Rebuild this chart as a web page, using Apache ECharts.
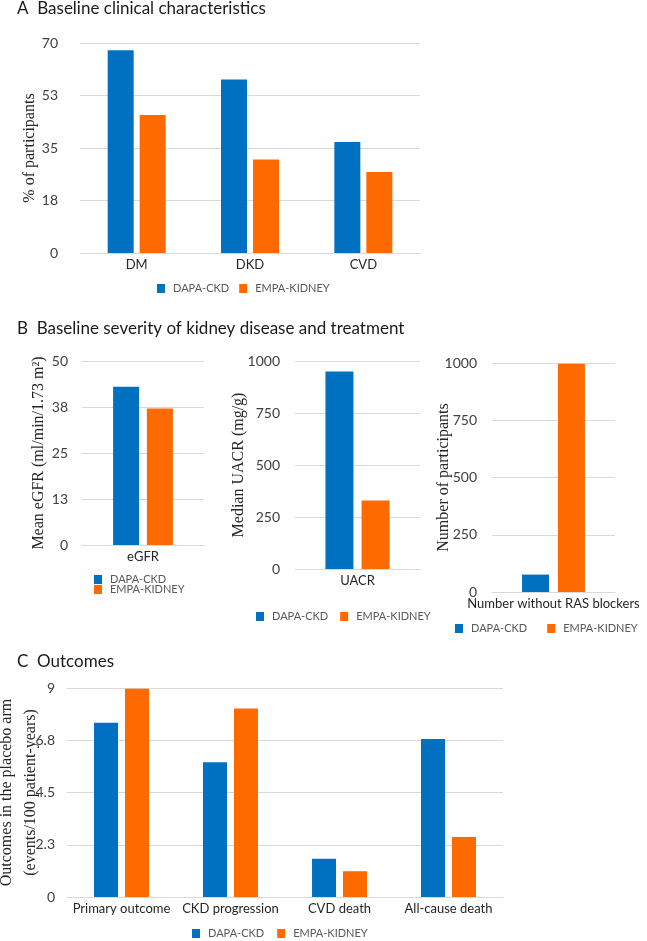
<!DOCTYPE html>
<html>
<head>
<meta charset="UTF-8">
<script src="https://cdn.jsdelivr.net/npm/echarts@6/dist/echarts.min.js"></script>
<style>
  html, body { margin: 0; padding: 0; background: #fff; }
  #chart { width: 647px; height: 941px; }
</style>
</head>
<body>
<div id="chart"></div>
<script>
  // panel A
  var catsA = ['DM', 'DKD', 'CVD'];
  var dapaA = [67.6, 57.8, 37.0];
  var empaA = [46.0, 31.2, 27.0];
  // panel B
  var catsEgfr = ['eGFR'];
  var dapaEgfr = [43.0];
  var empaEgfr = [37.1];
  var catsUacr = ['UACR'];
  var dapaUacr = [949];
  var empaUacr = [329];
  var catsRas = ['Number without RAS blockers'];
  var dapaRas = [76];
  var empaRas = [997];
  // panel C
  var catsC = ['Primary outcome', 'CKD progression', 'CVD death', 'All-cause death'];
  var dapaC = [7.5, 5.8, 1.65, 6.8];
  var empaC = [8.97, 8.12, 1.11, 2.58];

  var BLUE = '#0070c0', ORANGE = '#ff6a00';
  var SANS = 'Lato', SERIF = 'Liberation Serif';

  function roundInt(v) { return String(Math.round(v)); }
  function round1(v) { return String(Math.round(v * 10) / 10); }

  function xAx(idx, cats) {
    return {
      type: 'category', gridIndex: idx, data: cats,
      axisTick: { show: false },
      axisLine: { lineStyle: { color: '#d9d9d9', width: 1 } },
      axisLabel: { fontFamily: SANS, fontSize: 13, color: '#262626', margin: 5, interval: 0 }
    };
  }
  function yAx(idx, max, interval, fmt, name, gap, margin) {
    return {
      type: 'value', gridIndex: idx, min: 0, max: max, interval: interval,
      name: name, nameLocation: 'middle', nameGap: gap, nameMoveOverlap: false,
      nameTextStyle: { fontFamily: SERIF, fontSize: 16, color: '#262626', lineHeight: 24 },
      axisLine: { show: false }, axisTick: { show: false },
      splitLine: { lineStyle: { color: '#d9d9d9', width: 1 } },
      axisLabel: { fontFamily: SANS, fontSize: 14, color: '#404040', margin: margin, formatter: fmt }
    };
  }
  function bars(idx, name, data, color, width, gap) {
    return {
      type: 'bar', name: name, xAxisIndex: idx, yAxisIndex: idx, data: data,
      barWidth: width, barGap: gap, itemStyle: { color: color }
    };
  }
  function leg(left, top, orient, gap) {
    return {
      data: ['DAPA-CKD', 'EMPA-KIDNEY'], left: left, top: top, orient: orient,
      width: 200, padding: 0,
      itemWidth: 8, itemHeight: 9, itemGap: gap, icon: 'rect',
      textStyle: { fontFamily: SANS, fontSize: 11, color: '#595959', padding: [0, 0, 0, 3], lineHeight: 13 }
    };
  }

  var chart = echarts.init(document.getElementById('chart'));
  chart.setOption({
    animation: false,
    title: [
      { text: 'A  Baseline clinical characteristics', left: 12, top: -5 },
      { text: 'B  Baseline severity of kidney disease and treatment', left: 12, top: 315 },
      { text: 'C  Outcomes', left: 12, top: 648 }
    ].map(function (t) {
      t.textStyle = { fontFamily: SANS, fontSize: 17, fontWeight: 'normal', color: '#1a1a1a' };
      return t;
    }),
    legend: [
      leg(157, 282, 'horizontal', 10),
      leg(94, 573, 'vertical', -3),
      leg(256, 610, 'horizontal', 12),
      leg(455, 622, 'horizontal', 20),
      leg(192, 927, 'horizontal', 13)
    ],
    grid: [
      { left: 80, top: 43, width: 340, height: 210 },
      { left: 82, top: 361, width: 122, height: 184 },
      { left: 295, top: 361, width: 125, height: 208 },
      { left: 492, top: 363, width: 123, height: 229 },
      { left: 67, top: 688, width: 436, height: 209 }
    ].map(function (g) { g.outerBoundsMode = 'none'; g.containLabel = false; return g; }),
    xAxis: [
      xAx(0, catsA), xAx(1, catsEgfr), xAx(2, catsUacr), xAx(3, catsRas), xAx(4, catsC)
    ],
    yAxis: [
      yAx(0, 70, 17.5, roundInt, '% of participants', 38, 22),
      yAx(1, 50, 12.5, roundInt, 'Mean eGFR (ml/min/1.73 m\u00b2)', 31, 14),
      yAx(2, 1000, 250, roundInt, 'Median UACR (mg/g)', 44, 15),
      yAx(3, 1000, 250, roundInt, 'Number of participants', 36, 15),
      yAx(4, 9, 2.25, round1, 'Outcomes in the placebo arm\n(events/100 patient-years)', 24, 12)
    ],
    series: [
      bars(0, 'DAPA-CKD', dapaA, BLUE, 26, '23%'),
      bars(0, 'EMPA-KIDNEY', empaA, ORANGE, 26, '23%'),
      bars(1, 'DAPA-CKD', dapaEgfr, BLUE, 26, '30%'),
      bars(1, 'EMPA-KIDNEY', empaEgfr, ORANGE, 26, '30%'),
      bars(2, 'DAPA-CKD', dapaUacr, BLUE, 28, '29%'),
      bars(2, 'EMPA-KIDNEY', empaUacr, ORANGE, 28, '29%'),
      bars(3, 'DAPA-CKD', dapaRas, BLUE, 27, '33%'),
      bars(3, 'EMPA-KIDNEY', empaRas, ORANGE, 27, '33%'),
      bars(4, 'DAPA-CKD', dapaC, BLUE, 24, '29%'),
      bars(4, 'EMPA-KIDNEY', empaC, ORANGE, 24, '29%')
    ]
  });
</script>
</body>
</html>
